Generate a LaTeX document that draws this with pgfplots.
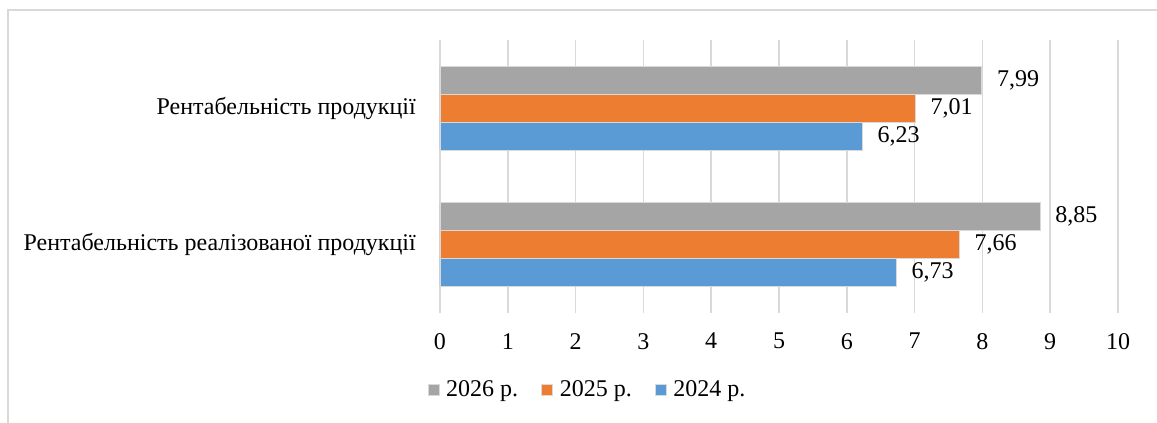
\documentclass[border=0pt]{standalone}
\usepackage{pgfplots}
\pgfplotsset{compat=1.18}
\usepackage{fontspec}
\setmainfont{Liberation Serif}

\definecolor{bargray}{HTML}{A5A5A5}
\definecolor{barorange}{HTML}{ED7D31}
\definecolor{barblue}{HTML}{5B9BD5}
\definecolor{gridgray}{HTML}{D9D9D9}

\begin{document}
\fontsize{24}{28}\selectfont
\begin{tikzpicture}[x=1pt,y=1pt]
  \useasboundingbox (0,0) rectangle (1157,423);
  % outer chart frame (top and left edges)
  \draw[gridgray, line width=1.5pt] (8,0) -- (8,413) -- (1157,413);
  \begin{axis}[
    at={(440pt,110pt)}, anchor=south west,
    scale only axis, width=678pt, height=273pt,
    xbar, bar width=28pt,
    xmin=0, xmax=10, ymin=-0.5, ymax=1.5,
    xtick={0,1,...,10},
    ytick={0,1},
    yticklabels={Рентабельність реалізованої продукції, Рентабельність продукції},
    axis line style={draw=none},
    major tick length=0pt,
    xmajorgrids, grid style={gridgray, line width=1.5pt},
    /pgf/number format/assume math mode=true,
    tick label style={font=\fontsize{24}{28}\selectfont},
    xticklabel style={yshift=-12pt},
    yticklabel style={xshift=-16pt},
    nodes near coords,
    nodes near coords style={font=\fontsize{24}{28}\selectfont, anchor=west, xshift=7pt,
      /pgf/number format/.cd, use comma, fixed, fixed zerofill, precision=2, assume math mode=true},
    legend columns=3, reverse legend,
    legend style={at={(0.2175,-0.282)}, anchor=center, draw=none, fill=none,
      font=\fontsize{24}{28}\selectfont,
      /tikz/every odd column/.append style={column sep=5pt},
      /tikz/every even column/.append style={column sep=21pt}},
    legend image code/.code={\fill[#1] (0pt,-5.5pt) rectangle (11pt,5.5pt);},
    clip=false,
  ]
    \addplot[fill=barblue, draw=white!85!black, line width=0.6pt, bar shift=-28pt]
      coordinates {(6.73,0) (6.23,1)};
    \addplot[fill=barorange, draw=white!85!black, line width=0.6pt, bar shift=0pt]
      coordinates {(7.66,0) (7.01,1)};
    \addplot[fill=bargray, draw=white!85!black, line width=0.6pt, bar shift=28pt]
      coordinates {(8.85,0) (7.99,1)};
    \legend{2024 р., 2025 р., 2026 р.}
  \end{axis}
\end{tikzpicture}
\end{document}
